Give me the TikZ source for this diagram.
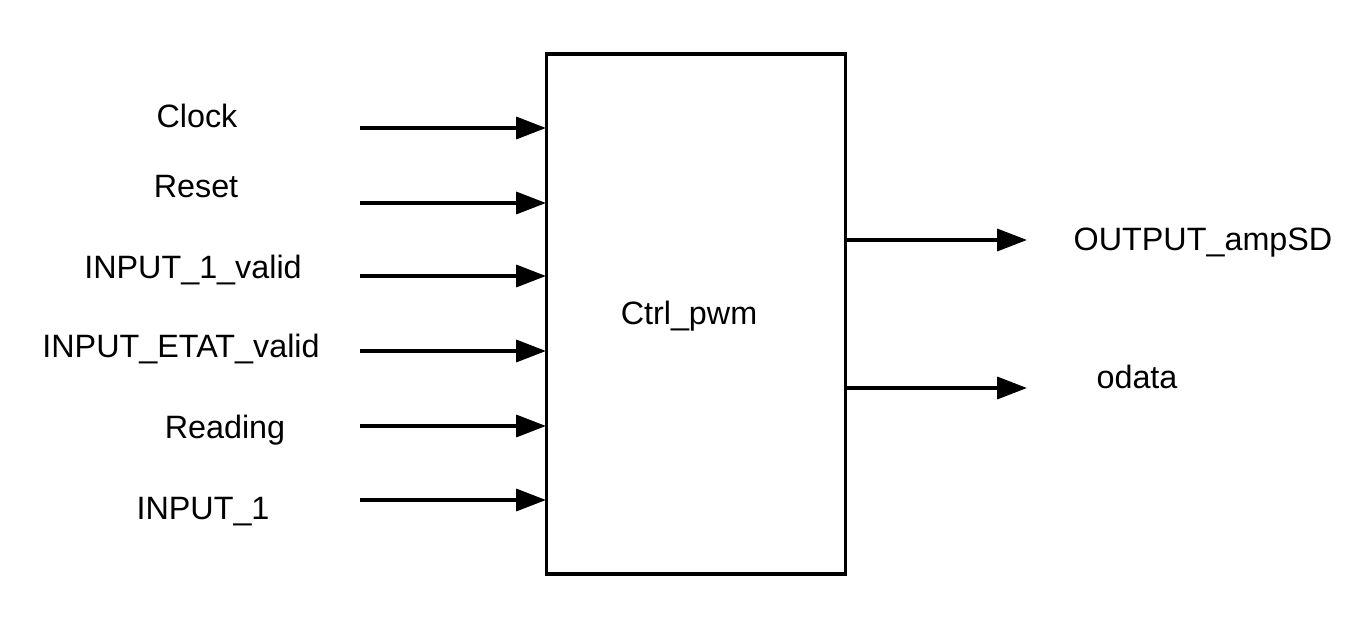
\documentclass[tikz,border=0pt]{standalone}
\usepackage{fontspec}
\setmainfont{Liberation Sans}
\usetikzlibrary{arrows.meta}
\begin{document}
\begin{tikzpicture}[x=0.02cm,y=-0.02cm,
  lbl/.style={anchor=base,inner sep=0pt,font=\fontsize{18.4pt}{20pt}\selectfont},
  sig/.style={line width=2pt,-{Triangle[length=17pt,width=12.5pt]}},
  blk/.style={draw,line width=2pt,minimum width=299*0.02cm,minimum height=520*0.02cm,inner sep=0pt}]
\useasboundingbox (0,0) rectangle (1359,628);
\node[blk] (box) at (696,314) {};
\node[lbl] (ctrl) at (689,324) {Ctrl\_pwm};
% inputs
\foreach \n/\y/\lx/\ly/\t in {a/128/197/128/Clock, b/203/196/198/Reset, c/276/193/278/INPUT\_1\_valid, d/351/181/357/INPUT\_ETAT\_valid, e/426/225/438/Reading, f/500/203/519/INPUT\_1}{
  \coordinate (s\n) at (360,\y);
  \coordinate (t\n) at (546,\y);
  \node[lbl] (l\n) at (\lx,\ly) {\t};
  \draw[sig] (s\n) -- (t\n);
}
% outputs
\coordinate (o1s) at (846,240);
\coordinate (o1e) at (1027,240);
\coordinate (o2s) at (846,388);
\coordinate (o2e) at (1027,388);
\draw[sig] (o1s) -- (o1e);
\draw[sig] (o2s) -- (o2e);
\node[lbl] (lo1) at (1203,251) {OUTPUT\_ampSD};
\node[lbl] (lo2) at (1137,388) {odata};
\end{tikzpicture}
\end{document}
